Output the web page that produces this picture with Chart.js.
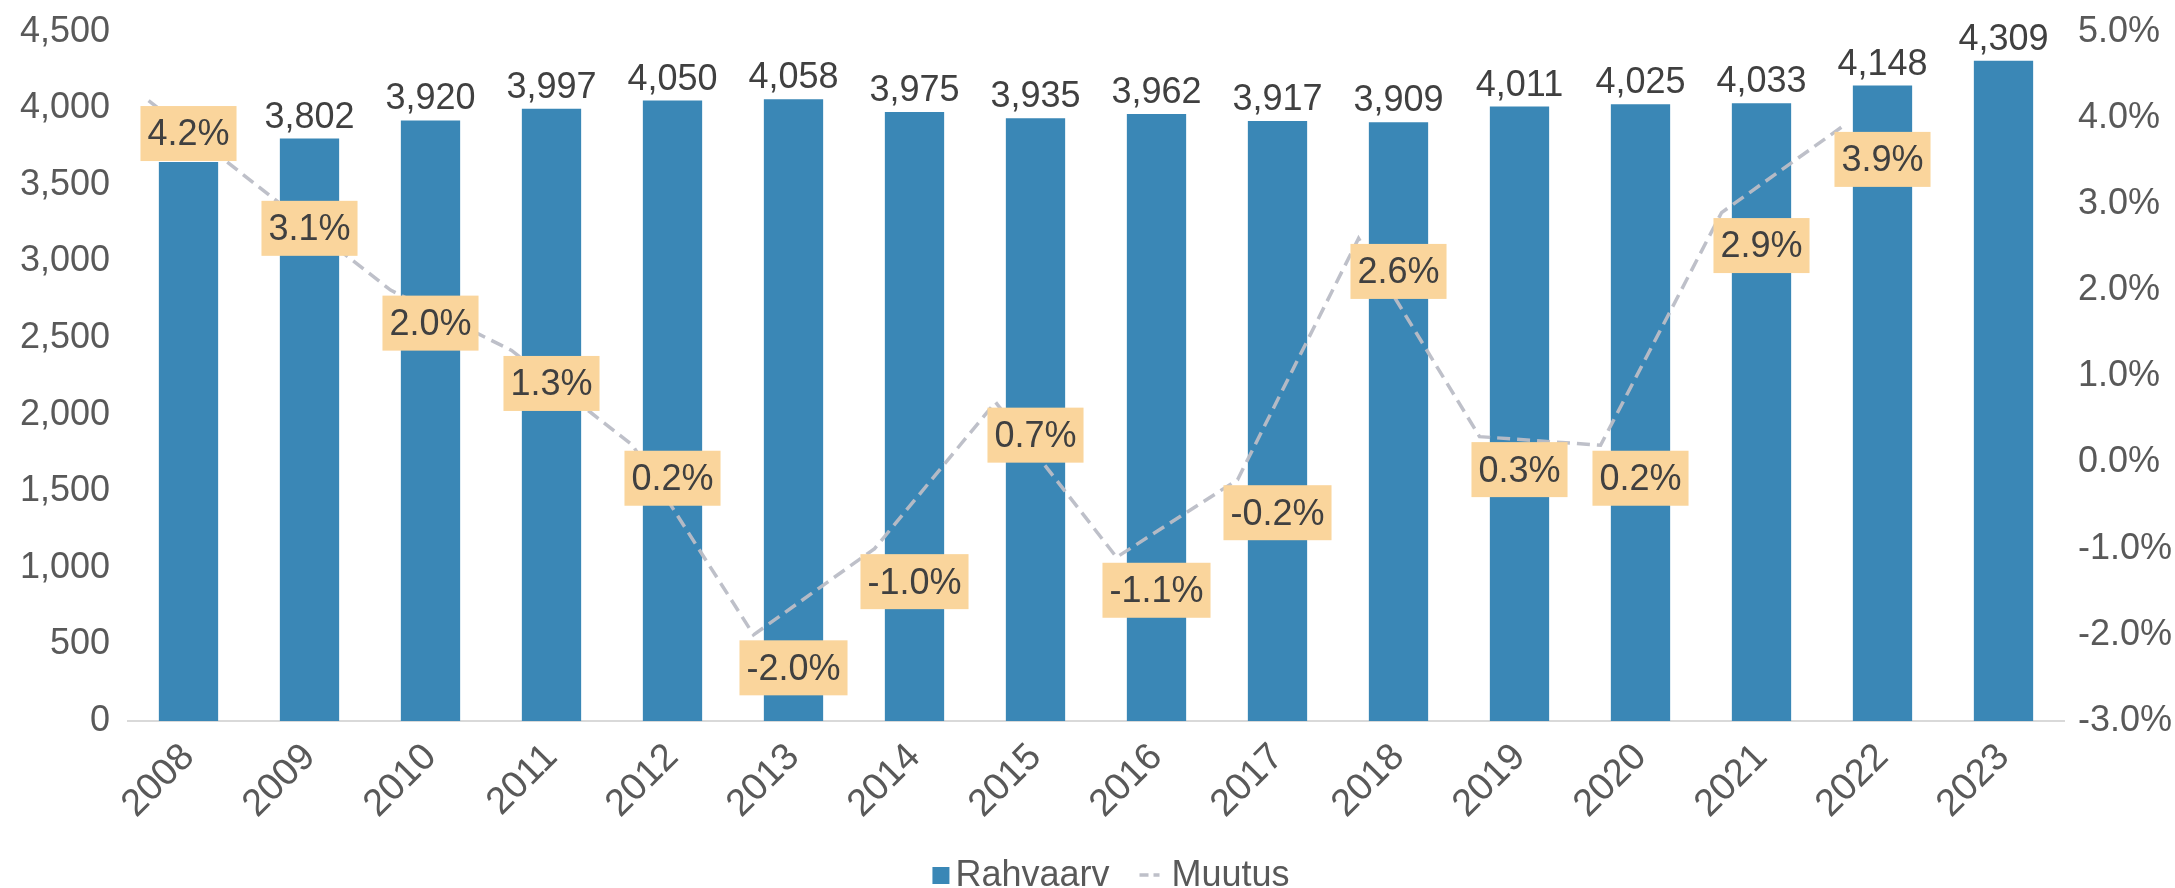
<!DOCTYPE html>
<html><head><meta charset="utf-8">
<script src="https://cdn.jsdelivr.net/npm/chart.js@4.4.1/dist/chart.umd.min.js"></script>
<style>html,body{margin:0;padding:0;background:#fff;overflow:hidden}#wrap{width:2175px;height:888px}</style>
</head><body><div id="wrap"><canvas id="c" width="2175" height="888"></canvas></div>
<script>
const years = ['2008','2009','2010','2011','2012','2013','2014','2015','2016','2017','2018','2019','2020','2021','2022','2023'];
const population = [3649,3802,3920,3997,4050,4058,3975,3935,3962,3917,3909,4011,4025,4033,4148,4309];
const changePct = [4.2,3.1,2.0,1.3,0.2,-2.0,-1.0,0.7,-1.1,-0.2,2.6,0.3,0.2,2.9,3.9];
const leftMin = 0, leftMax = 4500, leftStep = 500;
const rightMin = -3, rightMax = 5, rightStep = 1;
const seriesNames = ['Rahvaarv','Muutus'];

const FONT = "'Liberation Sans', Arial, sans-serif";
const BAR_COLOR = '#3A87B6';
const LINE_COLOR = 'rgba(186,189,198,0.95)';
const LABEL_BG = '#FAD59C';

const fmtInt = v => Number(v).toLocaleString('en-US');
const fmtPct = v => Number(v).toFixed(1) + '%';

const labelPlugin = {
  id: 'labels',
  afterDatasetsDraw(chart) {
    const ctx = chart.ctx;
    ctx.save();
    const barMeta = chart.getDatasetMeta(0);
    ctx.font = '36px ' + FONT;
    ctx.fillStyle = '#404040';
    ctx.textAlign = 'center';
    ctx.textBaseline = 'alphabetic';
    barMeta.data.forEach((el, i) => {
      ctx.fillText(fmtInt(population[i]), el.x, el.y - 11);
    });
    const lineMeta = chart.getDatasetMeta(1);
    const xs = chart.scales.x;
    ctx.textBaseline = 'middle';
    lineMeta.data.forEach((pt, i) => {
      const txt = fmtPct(changePct[i]);
      const cx = xs.getPixelForValue(i);
      const cy = pt.y + 33;
      const w = ctx.measureText(txt).width + 14;
      const h = 55;
      ctx.fillStyle = LABEL_BG;
      ctx.fillRect(cx - w / 2, cy - h / 2, w, h);
      ctx.fillStyle = '#404040';
      ctx.fillText(txt, cx, cy + 2);
    });
    ctx.restore();
  },
  afterDraw(chart) {
    const ctx = chart.ctx;
    ctx.save();
    ctx.font = '36px ' + FONT;
    ctx.textBaseline = 'alphabetic';
    ctx.textAlign = 'left';
    const w1 = ctx.measureText(seriesNames[0]).width;
    const w2 = ctx.measureText(seriesNames[1]).width;
    const total = 17 + 6 + w1 + 30 + 20 + 12 + w2;
    let x = 1111 - total / 2;
    const base = 886;
    ctx.fillStyle = BAR_COLOR;
    ctx.fillRect(x, 867, 17, 17);
    x += 23;
    ctx.fillStyle = '#595959';
    ctx.fillText(seriesNames[0], x, base);
    x += w1 + 30;
    ctx.strokeStyle = LINE_COLOR;
    ctx.lineWidth = 3.5;
    ctx.setLineDash([9, 5]);
    ctx.beginPath();
    ctx.moveTo(x, 875); ctx.lineTo(x + 20, 875);
    ctx.stroke();
    ctx.setLineDash([]);
    x += 32;
    ctx.fillText(seriesNames[1], x, base);
    ctx.restore();
  }
};

new Chart(document.getElementById('c'), {
  data: {
    labels: years,
    datasets: [
      {
        type: 'bar', label: seriesNames[0], data: population,
        backgroundColor: BAR_COLOR, xAxisID: 'x', yAxisID: 'y',
        barPercentage: 0.49, categoryPercentage: 1.0, grouped: false, order: 2
      },
      {
        type: 'line', label: seriesNames[1],
        data: changePct.map((v, i) => ({ x: i, y: v })),
        xAxisID: 'x2', yAxisID: 'y2',
        borderColor: LINE_COLOR, borderWidth: 3.5, borderDash: [13, 7],
        pointRadius: 0, fill: false, tension: 0, order: 1
      }
    ]
  },
  options: {
    responsive: false, animation: false, devicePixelRatio: 1,
    layout: { padding: { top: 7, left: 0, right: 0, bottom: 0 } },
    plugins: { legend: { display: false }, tooltip: { enabled: false } },
    scales: {
      x: {
        type: 'category', offset: true,
        grid: { display: false },
        border: { display: true, color: '#d9d9d9', width: 2 },
        ticks: { font: { family: FONT, size: 38 }, color: '#595959', minRotation: 45, maxRotation: 45, padding: 6 },
        afterFit: s => { s.height = 167; }
      },
      x2: { type: 'linear', display: false, min: -0.17, max: 15.83 },
      y: {
        position: 'left', min: leftMin, max: leftMax,
        grid: { display: false }, border: { display: false },
        ticks: { stepSize: leftStep, callback: fmtInt, font: { family: FONT, size: 36 }, color: '#595959', padding: 10 },
        afterFit: s => { s.width = 128; }
      },
      y2: {
        position: 'right', min: rightMin, max: rightMax,
        grid: { display: false }, border: { display: false },
        ticks: { stepSize: rightStep, callback: fmtPct, font: { family: FONT, size: 36 }, color: '#595959', padding: 6 },
        afterFit: s => { s.width = 111; }
      }
    }
  },
  plugins: [labelPlugin]
});
</script></body></html>
